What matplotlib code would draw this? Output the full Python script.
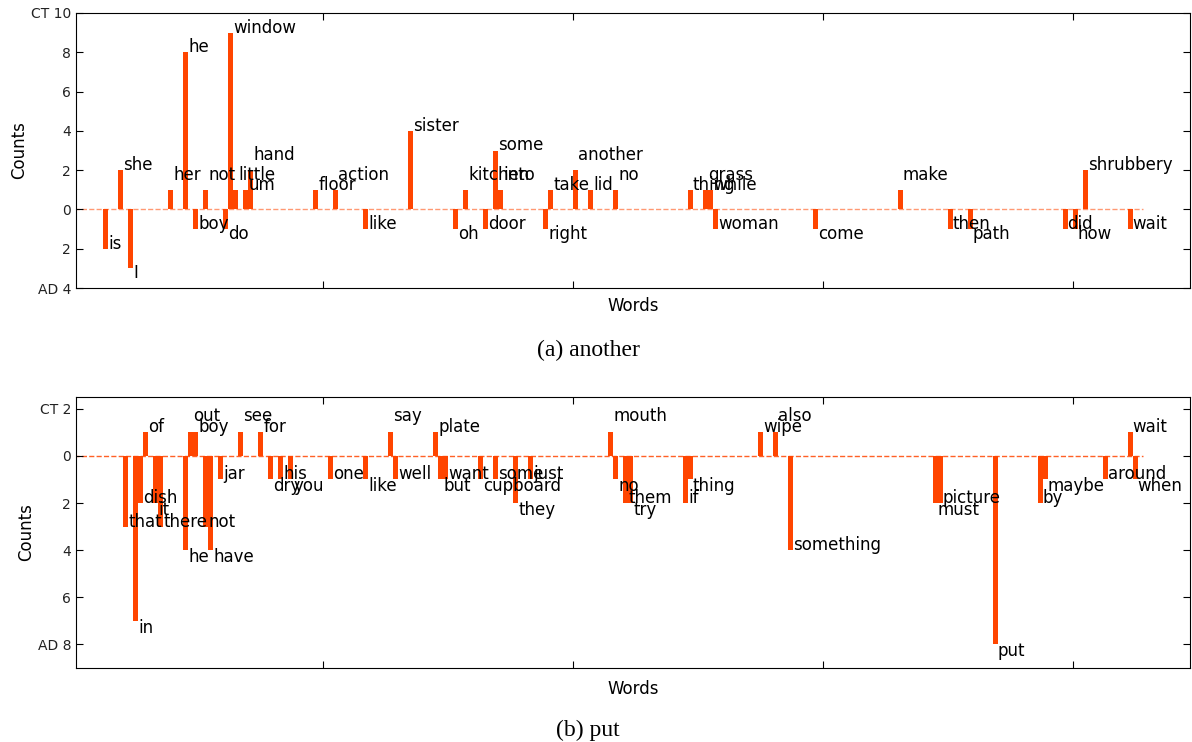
import matplotlib
matplotlib.use('Agg')
import matplotlib.pyplot as plt

# (a) another : word index, signed count (CT > 0, AD < 0)
words_a = ['is', 'she', 'I', 'her', 'he', 'boy', 'not', 'do', 'window', 'little',
           'um', 'hand', 'floor', 'action', 'like', 'sister', 'oh', 'kitchen', 'door', 'some',
           'into', 'right', 'take', 'another', 'lid', 'no', 'thing', 'grass', 'while', 'woman',
           'come', 'make', 'then', 'path', 'did', 'how', 'shrubbery', 'wait']
pos_a = [6, 9, 11, 19, 22, 24, 26, 30, 31, 32,
         34, 35, 48, 52, 58, 67, 76, 78, 82, 84,
         85, 94, 95, 100, 103, 108, 123, 126, 127, 128,
         148, 165, 175, 179, 198, 200, 202, 211]
counts_a = [-2, 2, -3, 1, 8, -1, 1, -1, 9, 1,
            1, 2, 1, 1, -1, 4, -1, 1, -1, 3,
            1, -1, 1, 2, 1, 1, 1, 1, 1, -1,
            -1, 1, -1, -1, -1, -1, 2, -1]
# little vertical nudges for the word labels
nudge_a = [0, 0, -0.5, 0.5, 0, 0, 0.5, -0.5, 0, 0.5,
           0, 0.5, 0, 0.5, 0, 0, -0.5, 0.5, 0, 0,
           0.5, -0.5, 0, 0.5, 0, 0.5, 0, 0.5, 0, 0,
           -0.5, 0.5, 0, -0.5, 0, -0.5, 0, 0]

# (b) put
words_b = ['that', 'in', 'dish', 'of', 'it', 'there', 'he', 'out', 'boy', 'not',
           'have', 'jar', 'see', 'for', 'dry', 'his', 'you', 'one', 'like', 'say',
           'well', 'plate', 'but', 'want', 'cupboard', 'some', 'they', 'just', 'mouth', 'no',
           'them', 'try', 'if', 'thing', 'wipe', 'also', 'something', 'must', 'picture', 'put',
           'by', 'maybe', 'around', 'wait', 'when']
pos_b = [10, 12, 13, 14, 16, 17, 22, 23, 24, 26,
         27, 29, 33, 37, 39, 41, 43, 51, 58, 63,
         64, 72, 73, 74, 81, 84, 88, 91, 107, 108,
         110, 111, 122, 123, 137, 140, 143, 172, 173, 184,
         193, 194, 206, 211, 212]
counts_b = [-3, -7, -2, 1, -2, -3, -4, 1, 1, -3,
            -4, -1, 1, 1, -1, -1, -1, -1, -1, 1,
            -1, 1, -1, -1, -1, -1, -2, -1, 1, -1,
            -2, -2, -2, -1, 1, 1, -4, -2, -2, -8,
            -2, -1, -1, 1, -1]
nudge_b = [0, -0.5, 0, 0, -0.5, 0, -0.5, 0.5, 0, 0,
           -0.5, 0, 0.5, 0, -0.5, 0, -0.5, 0, -0.5, 0.5,
           0, 0, -0.5, 0, -0.5, 0, -0.5, 0, 0.5, -0.5,
           0, -0.5, 0, -0.5, 0, 0.5, 0, -0.5, 0, -0.5,
           0, -0.5, 0, 0, -0.5]

n_words = 214

yticks_a = [10, 8, 6, 4, 2, 0, -2, -4]
ylabels_a = ['CT 10', '8', '6', '4', '2', '0', '2', 'AD 4']
yticks_b = [2, 0, -2, -4, -6, -8]
ylabels_b = ['CT 2', '0', '2', '4', '6', 'AD 8']

plt.rcParams['font.family'] = 'DejaVu Sans'


def panel(ax, words, pos, counts, nudge, ylim, yticks, ylabels, line_alpha, xpad):
    ax.bar(pos, counts, width=1, align='edge', color='orangered', linewidth=0, zorder=2)
    ax.plot([0, n_words], [0, 0], '--', color='orangered', lw=1, alpha=line_alpha, zorder=1)
    for w, x, c, d in zip(words, pos, counts, nudge):
        ax.text(x + 1, c + d, w, fontsize=12, ha='left', va='baseline', zorder=3)
    ax.set_xlim(0.5, 223.5)
    ax.set_ylim(*ylim)
    ax.set_xticks([50, 100, 150, 200])
    ax.set_xticklabels([])
    ax.set_yticks(yticks)
    ax.set_yticklabels(ylabels)
    ax.tick_params(direction='in', top=True, right=True, length=5, labelsize=10,
                   labelcolor='#222222')
    ax.set_xlabel('Words', fontsize=12, labelpad=xpad)
    ax.set_ylabel('Counts', fontsize=12, labelpad=2)


fig = plt.figure(figsize=(11.92, 7.42), dpi=100)
ax1 = fig.add_axes([76 / 1192, 1 - 288 / 742, 1114 / 1192, 275 / 742])
ax2 = fig.add_axes([76 / 1192, 1 - 668 / 742, 1114 / 1192, 271 / 742])

panel(ax1, words_a, pos_a, counts_a, nudge_a, (-4, 10), yticks_a, ylabels_a, 0.55, 3)
panel(ax2, words_b, pos_b, counts_b, nudge_b, (-9, 2.5), yticks_b, ylabels_b, 0.85, 5)

fig.text(588 / 1192, 1 - 350 / 742, '(a) another', ha='center', va='center',
         fontsize=17, family='Liberation Serif')
fig.text(588 / 1192, 1 - 730 / 742, '(b) put', ha='center', va='center',
         fontsize=17, family='Liberation Serif')

fig.savefig('out.png', dpi=100)
